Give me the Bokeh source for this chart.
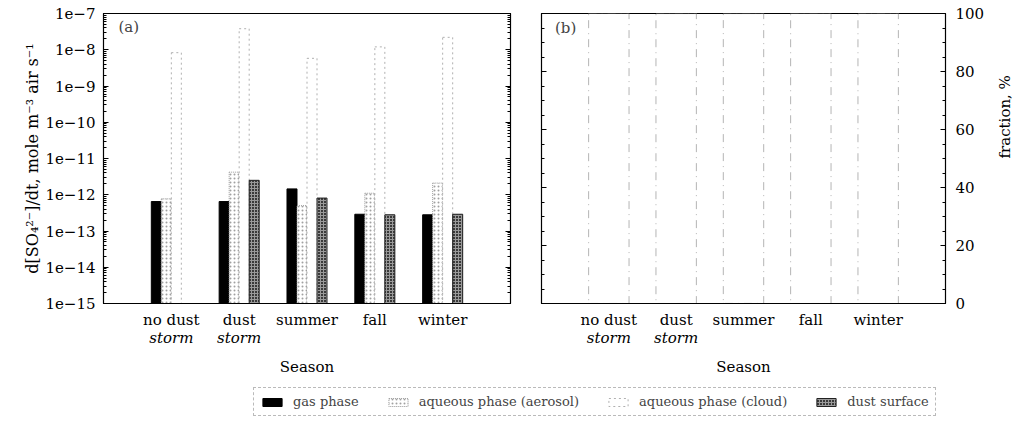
import numpy as np
from bokeh.plotting import figure
from bokeh.layouts import column, row
from bokeh.models import (Range1d, LogAxis, LinearAxis, FixedTicker, LogTicker,
                          CustomJSTickFormatter, Label, Legend, LegendItem,
                          ColumnDataSource)
from bokeh.embed import file_html
from bokeh.resources import INLINE

# ---------------- data ----------------
seasons = ["no dust", "dust", "summer", "fall", "winter"]
season_line2 = ["storm", "storm", "", "", ""]
positions = [1, 2, 3, 4, 5]

gas_phase = [6.5e-13, 6.5e-13, 1.45e-12, 2.9e-13, 2.8e-13]
aq_aerosol = [7.7e-13, 4.2e-12, 5.0e-13, 1.1e-12, 2.1e-12]
aq_cloud = [8.3e-9, 3.8e-8, 5.8e-9, 1.2e-8, 2.2e-8]
dust_surface = [np.nan, 2.5e-12, 8.1e-13, 2.8e-13, 2.9e-13]

frac_gas = [0.01, 0.00, 0.02, 0.00, 0.00]
frac_aerosol = [0.01, 0.01, 0.01, 0.01, 0.01]
frac_cloud = [99.98, 99.98, 99.96, 99.99, 99.99]
frac_dust = [0.00, 0.01, 0.01, 0.00, 0.00]

series_names = ["gas phase", "aqueous phase (aerosol)", "aqueous phase (cloud)", "dust surface"]

# ---------------- styles ----------------
AX_FONT = "DejaVu Serif"
styles = [
    dict(fill_color="black", line_color="black"),
    dict(fill_color="white", line_color="#9a9a9a", line_dash="1 1",
         hatch_pattern=".", hatch_color="#a0a0a0", hatch_scale=4),
    dict(fill_color="white", line_color="#b0b0b0", line_dash="2 3"),
    dict(fill_color="#3a3a3a", line_color="#222222",
         hatch_pattern="+", hatch_color="#9a9a9a", hatch_scale=3),
]

blank = CustomJSTickFormatter(code="return '';")

def style_axis(ax):
    ax.major_label_text_font = AX_FONT
    ax.major_label_text_font_size = "15px"
    ax.major_label_text_color = "black"
    ax.axis_label_text_font = AX_FONT
    ax.axis_label_text_font_size = "15px"
    ax.axis_label_text_font_style = "normal"
    ax.axis_label_text_color = "black"
    ax.axis_line_color = "black"
    ax.major_tick_line_color = "black"
    ax.minor_tick_line_color = "black"
    ax.major_tick_in = 5
    ax.major_tick_out = 0
    ax.minor_tick_in = 3
    ax.minor_tick_out = 0

def season_axes(p):
    xa = p.xaxis[0]
    style_axis(xa)
    xa.ticker = FixedTicker(ticks=positions)
    xa.major_label_overrides = {k: s for k, s in zip(positions, seasons)}
    xa.major_tick_line_color = None
    xa.minor_tick_line_color = None
    xa.major_label_standoff = 7
    # second line of the category names (italic), carries the axis title
    pos2 = [k for k, s in zip(positions, season_line2) if s]
    xa2 = LinearAxis(ticker=FixedTicker(ticks=pos2),
                     major_label_overrides={k: s for k, s in zip(positions, season_line2) if s})
    style_axis(xa2)
    xa2.axis_line_color = None
    xa2.major_tick_line_color = None
    xa2.minor_tick_line_color = None
    xa2.major_tick_in = 0
    xa2.minor_tick_in = 0
    xa2.major_label_standoff = -3
    xa2.major_label_text_font_style = "italic"
    xa2.axis_label = "Season"
    xa2.axis_label_standoff = 8
    p.add_layout(xa2, "below")

# ---------------- panel (a) ----------------
p1 = figure(width=520, height=378, y_axis_type="log",
            x_range=Range1d(0, 6), y_range=Range1d(1e-15, 1e-7),
            output_backend="svg", toolbar_location=None,
            min_border_left=103, min_border_right=10,
            min_border_top=13, min_border_bottom=72)
p1.grid.visible = False
p1.outline_line_color = "black"
p1.outline_line_width = 1.2

bar_w = 0.1475
offsets = [-1.5, -0.5, 0.5, 1.5]
bar_sources = []
for vals, off, st in zip([gas_phase, aq_aerosol, aq_cloud, dust_surface], offsets, styles):
    xs = [k + off * bar_w for k, v in zip(positions, vals) if np.isfinite(v)]
    tops = [v for v in vals if np.isfinite(v)]
    src = ColumnDataSource(dict(x=xs, top=tops))
    bar_sources.append(src)
    p1.vbar(x="x", top="top", bottom=1e-15, width=bar_w, source=src, **st)

yax = p1.yaxis[0]
style_axis(yax)
yax.ticker = LogTicker(num_minor_ticks=10)
yax.formatter = CustomJSTickFormatter(code="return '1e\u2212' + Math.round(-Math.log10(tick));")
yax.major_label_standoff = 8
yax.axis_label = "d[SO\u2084\u00b2\u207b]/dt, mole m\u207b\u00b3 air s\u207b\u00b9"
yax.axis_label_text_font_size = "16px"
yax.axis_label_standoff = 0

rax = LogAxis(ticker=LogTicker(num_minor_ticks=10), formatter=blank)
style_axis(rax)
rax.major_label_standoff = 0
p1.add_layout(rax, "right")

season_axes(p1)
p1.add_layout(Label(x=0.22, y=10 ** -7.38, text="(a)", text_baseline="middle",
                    text_font=AX_FONT, text_font_size="15px"))

# ---------------- panel (b) ----------------
p2 = figure(width=507, height=378, x_range=Range1d(0, 6), y_range=Range1d(0, 100),
            y_axis_location="right",
            output_backend="svg", toolbar_location=None,
            min_border_left=21, min_border_right=82,
            min_border_top=13, min_border_bottom=72)
p2.grid.visible = False
p2.outline_line_color = "black"
p2.outline_line_width = 1.2

src2 = ColumnDataSource(dict(x=positions, gas=frac_gas, aer=frac_aerosol,
                             cld=frac_cloud, dst=frac_dust))
p2.vbar_stack(["gas", "aer", "cld", "dst"], x="x", width=0.6, source=src2,
              fill_color=["black", "white", "white", "#3a3a3a"],
              line_color=["black", "#9a9a9a", "#b4b4b4", "#222222"],
              line_dash=["solid", "1 1", "8 5 1 5", "solid"])

ticks_b = [0, 20, 40, 60, 80, 100]
minor_b = [m for m in range(0, 101, 5) if m % 20]
yb = p2.yaxis[0]
style_axis(yb)
yb.ticker = FixedTicker(ticks=ticks_b, minor_ticks=minor_b)
yb.major_label_standoff = 10
yb.axis_label = "fraction, %"
yb.axis_label_orientation = np.pi / 2
yb.axis_label_standoff = 18

lb = LinearAxis(ticker=FixedTicker(ticks=ticks_b, minor_ticks=minor_b), formatter=blank)
style_axis(lb)
lb.major_label_standoff = 0
p2.add_layout(lb, "left")

season_axes(p2)
p2.add_layout(Label(x=0.2, y=95, text="(b)", text_baseline="middle",
                    text_font=AX_FONT, text_font_size="15px"))

# ---------------- legend (separate strip; renderers reuse the bar data, view is off-data) ----------------
p3 = figure(width=1027, height=54, x_range=Range1d(-20, -19), y_range=Range1d(0, 1),
            x_axis_type=None, y_axis_type=None,
            output_backend="svg", toolbar_location=None,
            min_border_left=0, min_border_right=0, min_border_top=0, min_border_bottom=0)
p3.outline_line_color = None
items = []
for name, st, src in zip(series_names, styles, bar_sources):
    r = p3.vbar(x="x", top="top", bottom=0, width=bar_w, source=src, **st)
    items.append(LegendItem(label=name, renderers=[r]))
leg = Legend(items=items, orientation="horizontal", location=(253, 16),
             glyph_width=24, glyph_height=10, label_standoff=9, spacing=27,
             padding=6, margin=0,
             label_text_font=AX_FONT, label_text_font_size="13px",
             border_line_color="#777777", border_line_dash="10 4",
             background_fill_color="white")
p3.add_layout(leg)

layout = column(row(p1, p2), p3)
open("out.html", "w").write(file_html(layout, INLINE))
